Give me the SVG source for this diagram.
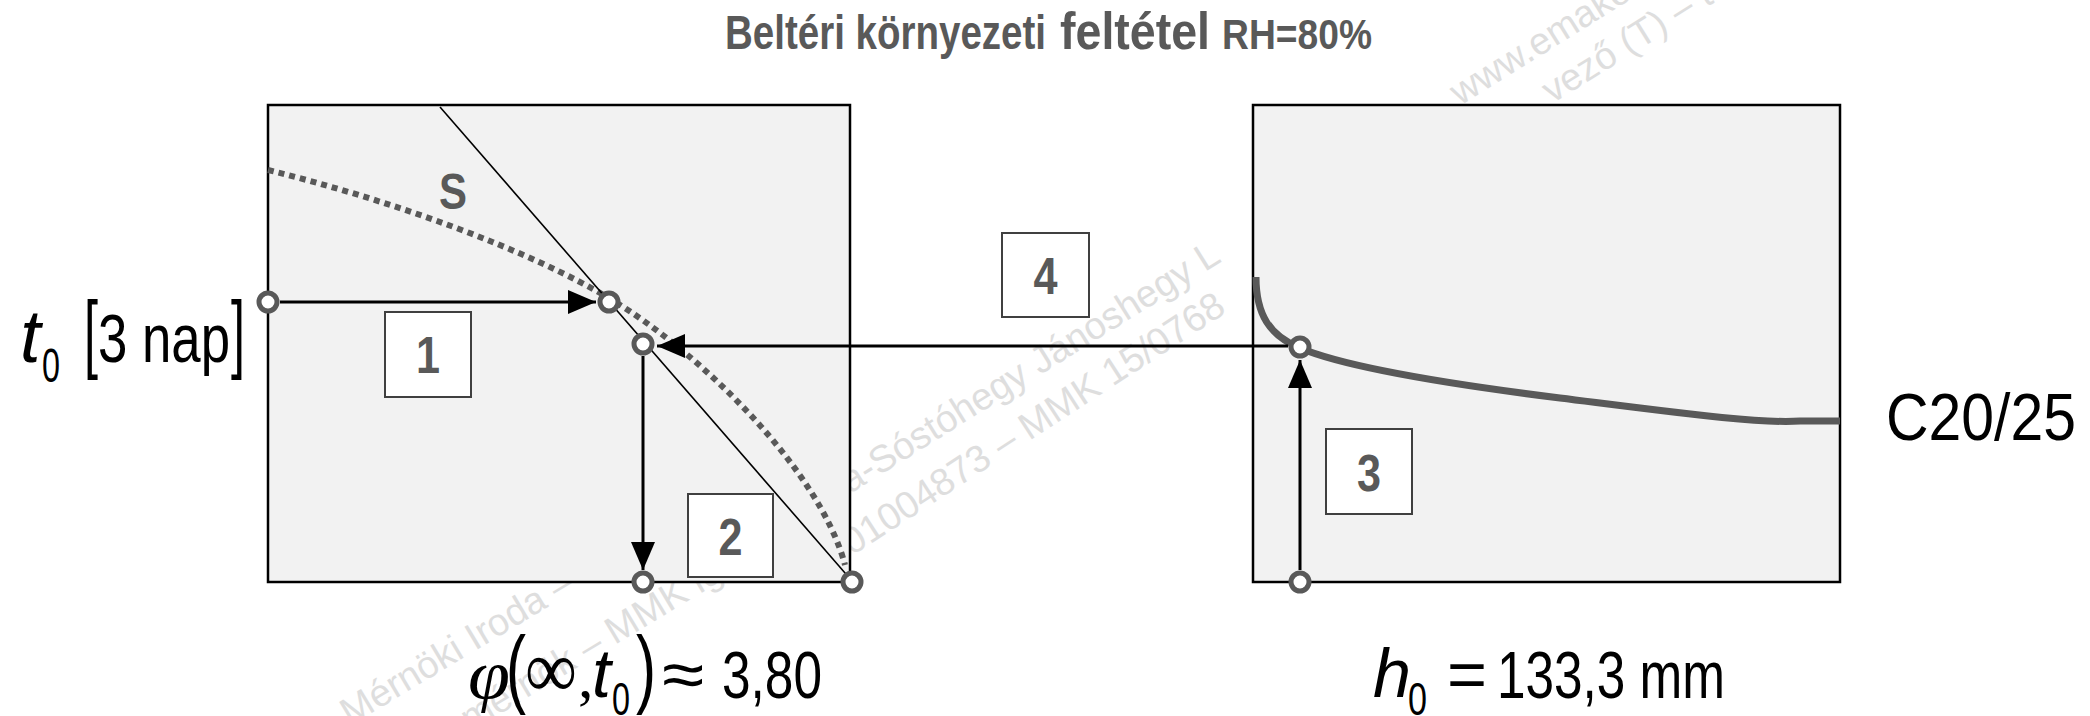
<svg xmlns="http://www.w3.org/2000/svg" width="2090" height="716" viewBox="0 0 2090 716">
  <defs>
    <style>
      .wm { font-family: "Liberation Sans", Arial, sans-serif; font-size: 38px; fill: #dedede; }
      .panel { fill: #f2f2f2; stroke: #000; stroke-width: 2.5; }
      .tag rect { fill: #fff; stroke: #404040; stroke-width: 2; }
      .tag text { font-family: "Liberation Sans", Arial, sans-serif; font-weight: bold; font-size: 52px; fill: #595959; text-anchor: middle; }
      .pt { fill: #fff; stroke: #595959; stroke-width: 5; }
      .arr { stroke: #000; stroke-width: 3; fill: none; }
      .eq { font-family: "Liberation Sans", Arial, sans-serif; fill: #000; }
      .ser { font-family: "Liberation Serif", "Times New Roman", serif; fill: #000; }
      .it { font-style: italic; }
      .title { font-family: "Liberation Sans", Arial, sans-serif; font-weight: bold; fill: #595959; }
    </style>
    <marker id="ah" viewBox="0 0 28 24" refX="28" refY="12" markerWidth="28" markerHeight="24" markerUnits="userSpaceOnUse" orient="auto">
      <path d="M0,0 L28,12 L0,24 Z" fill="#000"/>
    </marker>
  </defs>

  <rect x="0" y="0" width="2090" height="716" fill="#fff"/>

  <!-- faint background stamp text (lies under the panels) -->
  <g id="stamp" class="wm">
    <text x="350" y="726" transform="rotate(-31 350 726)">Mérnöki Iroda – 4</text>
    <text x="470" y="732" transform="rotate(-31 470 732)">mérnök – MMK ig</text>
    <text x="850" y="494" transform="rotate(-32 850 494)">a-Sóstóhegy Jánoshegy L</text>
    <text x="852" y="556" transform="rotate(-33 852 556)">01004873 – MMK 15/0768</text>
    <text x="1460" y="106" transform="rotate(-32 1460 106)">www.emakon</text>
    <text x="1552" y="104" transform="rotate(-32 1552 104)">vező (T) – tarto</text>
  </g>

  <!-- title -->
  <g id="title" class="title">
    <text x="725" y="49" font-size="48" textLength="321" lengthAdjust="spacingAndGlyphs">Beltéri környezeti</text>
    <text x="1060" y="49" font-size="52" textLength="150" lengthAdjust="spacingAndGlyphs">feltétel</text>
    <text x="1222" y="49" font-size="43" textLength="150" lengthAdjust="spacingAndGlyphs">RH=80%</text>
  </g>

  <!-- left chart: creep coefficient nomogram -->
  <g id="chart-left">
    <rect class="panel" x="268" y="105" width="582" height="477"/>
    <path d="M268,170 C390,200 530,250 612,300 C700,353 820,470 845,565" fill="none" stroke="#595959" stroke-width="6" stroke-dasharray="6 5"/>
    <line x1="440" y1="107" x2="852" y2="581" stroke="#000" stroke-width="1.6"/>
    <text x="453" y="209" class="title" font-size="50" text-anchor="middle" textLength="28" lengthAdjust="spacingAndGlyphs">S</text>
  </g>

  <!-- right chart: notional size curve -->
  <g id="chart-right">
    <rect class="panel" x="1253" y="105" width="587" height="477"/>
    <path d="M1256,277 C1256,315 1270,336 1300,348 C1345,367 1440,383 1560,398 C1680,413 1760,424 1800,421 L1840,421" fill="none" stroke="#595959" stroke-width="7"/>
  </g>

  <!-- connectors -->
  <g id="connectors">
    <line class="arr" x1="280" y1="302" x2="596" y2="302" marker-end="url(#ah)"/>
    <line class="arr" x1="643" y1="356" x2="643" y2="570" marker-end="url(#ah)"/>
    <line class="arr" x1="1300" y1="570" x2="1300" y2="360" marker-end="url(#ah)"/>
    <line class="arr" x1="1288" y1="346" x2="657" y2="346" marker-end="url(#ah)"/>
  </g>

  <!-- reading points -->
  <g id="points">
    <circle class="pt" cx="268" cy="302" r="9"/>
    <circle class="pt" cx="609" cy="302" r="9"/>
    <circle class="pt" cx="643" cy="344" r="9"/>
    <circle class="pt" cx="643" cy="582" r="9"/>
    <circle class="pt" cx="852" cy="582" r="9"/>
    <circle class="pt" cx="1300" cy="347" r="9"/>
    <circle class="pt" cx="1300" cy="582" r="9"/>
  </g>

  <!-- step tags -->
  <g id="step-1" class="tag">
    <rect x="385" y="312" width="86" height="85"/>
    <text x="428" y="373" textLength="24" lengthAdjust="spacingAndGlyphs">1</text>
  </g>
  <g id="step-2" class="tag">
    <rect x="688" y="494" width="85" height="83"/>
    <text x="730.5" y="555" textLength="24" lengthAdjust="spacingAndGlyphs">2</text>
  </g>
  <g id="step-3" class="tag">
    <rect x="1326" y="429" width="86" height="85"/>
    <text x="1369" y="491" textLength="24" lengthAdjust="spacingAndGlyphs">3</text>
  </g>
  <g id="step-4" class="tag">
    <rect x="1002" y="233" width="87" height="84"/>
    <text x="1045.5" y="294" textLength="24" lengthAdjust="spacingAndGlyphs">4</text>
  </g>

  <!-- input: age at loading -->
  <g id="label-t0">
    <text class="eq it" x="20" y="362" font-size="74">t</text>
    <text class="eq" x="42" y="382" font-size="48" textLength="18" lengthAdjust="spacingAndGlyphs">0</text>
    <text class="eq" x="84" y="362" font-size="88" textLength="14" lengthAdjust="spacingAndGlyphs">[</text>
    <text class="eq" x="98" y="362" font-size="69" textLength="132" lengthAdjust="spacingAndGlyphs">3 nap</text>
    <text class="eq" x="231" y="362" font-size="88" textLength="14" lengthAdjust="spacingAndGlyphs">]</text>
  </g>

  <!-- result: creep coefficient -->
  <g id="label-phi">
    <text class="ser it" x="468" y="698" font-size="70" textLength="42" lengthAdjust="spacingAndGlyphs">φ</text>
    <text class="eq" x="506" y="697" font-size="88" textLength="20" lengthAdjust="spacingAndGlyphs">(</text>
    <text class="ser" x="525" y="697" font-size="82" textLength="52" lengthAdjust="spacingAndGlyphs">∞</text>
    <text class="ser" x="578" y="697" font-size="62">,</text>
    <text class="eq it" x="592" y="697" font-size="68">t</text>
    <text class="eq" x="612" y="715" font-size="46" textLength="18" lengthAdjust="spacingAndGlyphs">0</text>
    <text class="eq" x="636" y="697" font-size="88" textLength="20" lengthAdjust="spacingAndGlyphs">)</text>
    <text class="eq" x="662" y="697" font-size="66" textLength="42" lengthAdjust="spacingAndGlyphs">≈</text>
    <text class="eq" x="722" y="698" font-size="67" textLength="100" lengthAdjust="spacingAndGlyphs">3,80</text>
  </g>

  <!-- notional size -->
  <g id="label-h0">
    <text class="eq it" x="1373" y="697" font-size="68" textLength="38" lengthAdjust="spacingAndGlyphs">h</text>
    <text class="eq" x="1408" y="715" font-size="46" textLength="19" lengthAdjust="spacingAndGlyphs">0</text>
    <text class="eq" x="1447" y="697" font-size="66" textLength="40" lengthAdjust="spacingAndGlyphs">=</text>
    <text class="eq" x="1497" y="698" font-size="66" textLength="228" lengthAdjust="spacingAndGlyphs">133,3 mm</text>
  </g>

  <!-- concrete class -->
  <g id="label-class">
    <text class="eq" x="1886" y="440" font-size="66" textLength="190" lengthAdjust="spacingAndGlyphs">C20/25</text>
  </g>
</svg>
